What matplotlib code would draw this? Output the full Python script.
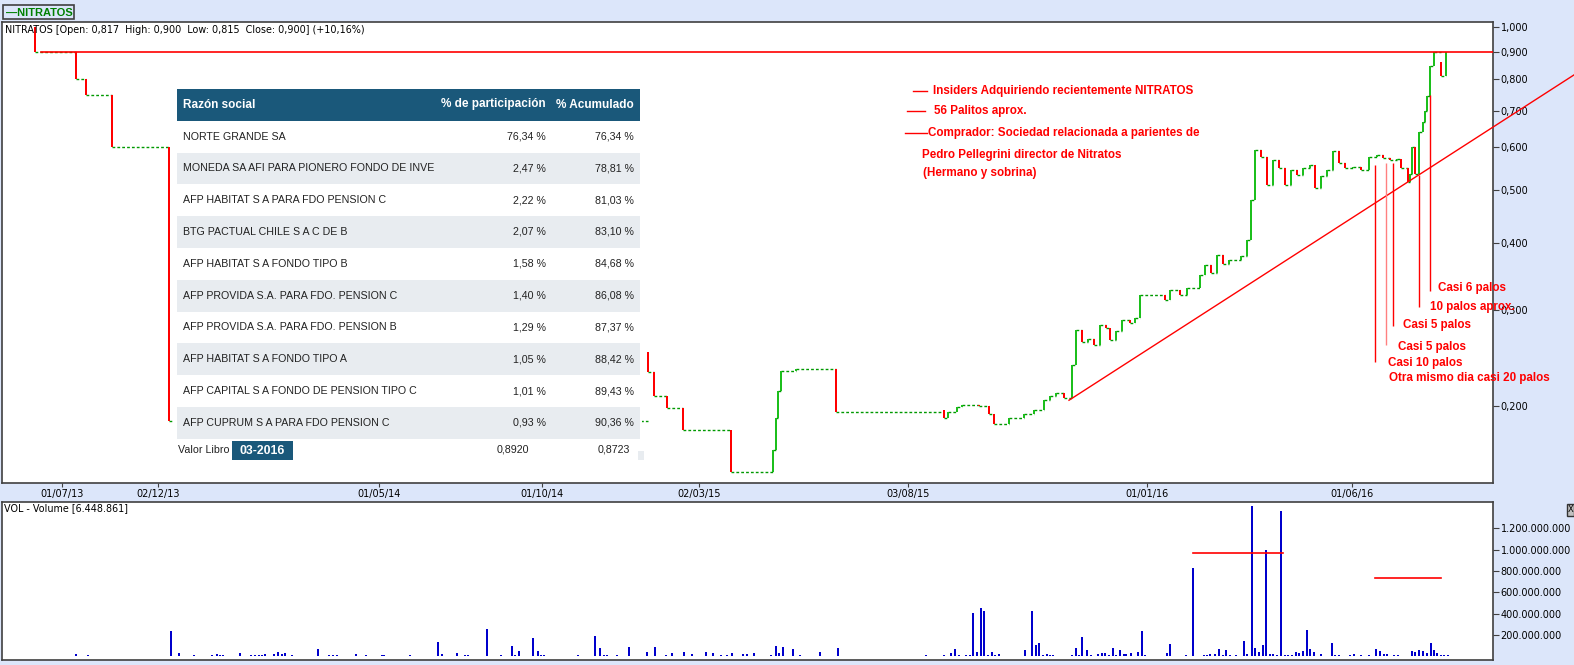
import numpy as np
import matplotlib.pyplot as plt
from matplotlib.patches import Rectangle
from matplotlib.ticker import NullLocator

W, H = 1574, 665
BG = '#dce6fa'
RED = '#ff0000'
GREEN = '#1cbf1c'
DASH = '#009900'
BLUE = '#0000cc'
NAVY = '#1a587a'
GRAYROW = '#e8ecf0'
FRAME = '#404040'

# price candles: chart slot, open, close
pos = [35, 76, 86, 112, 169, 648, 654, 667, 683, 731, 773, 776, 778, 781, 796, 836,
       944, 948, 957, 962, 979, 989, 994, 1009, 1024, 1034, 1044, 1050, 1056, 1064,
       1072, 1076, 1082, 1088, 1094, 1100, 1106, 1110, 1116, 1122, 1130, 1135, 1140,
       1165, 1170, 1180, 1187, 1200, 1205, 1211, 1217, 1223, 1229, 1241, 1247, 1251,
       1255, 1261, 1267, 1273, 1279, 1285, 1291, 1297, 1303, 1310, 1315, 1321, 1327,
       1333, 1339, 1345, 1353, 1361, 1369, 1377, 1383, 1390, 1397, 1401, 1408, 1410,
       1412, 1415, 1419, 1423, 1425, 1427, 1430, 1434, 1441, 1446]
opn = [1.000, 0.900, 0.800, 0.748, 0.600, 0.252, 0.231, 0.209, 0.198, 0.181, 0.151, 0.166,
       0.190, 0.213, 0.232, 0.234, 0.197, 0.190, 0.195, 0.199, 0.201, 0.200, 0.193, 0.185,
       0.190, 0.193, 0.197, 0.205, 0.209, 0.211, 0.207, 0.238, 0.276, 0.262, 0.266, 0.259,
       0.282, 0.279, 0.265, 0.275, 0.288, 0.284, 0.290, 0.320, 0.314, 0.327, 0.320, 0.330,
       0.349, 0.364, 0.352, 0.380, 0.366, 0.372, 0.378, 0.405, 0.479, 0.593, 0.575, 0.511,
       0.568, 0.550, 0.511, 0.544, 0.533, 0.550, 0.556, 0.505, 0.530, 0.544, 0.590, 0.560,
       0.548, 0.552, 0.545, 0.576, 0.580, 0.574, 0.568, 0.570, 0.549, 0.517, 0.535, 0.600,
       0.535, 0.640, 0.667, 0.700, 0.745, 0.846, 0.860, 0.811]
cls = [0.900, 0.800, 0.748, 0.600, 0.188, 0.231, 0.209, 0.198, 0.181, 0.151, 0.166, 0.190,
       0.213, 0.232, 0.234, 0.195, 0.190, 0.195, 0.199, 0.201, 0.200, 0.193, 0.185, 0.190,
       0.193, 0.197, 0.205, 0.209, 0.211, 0.207, 0.238, 0.276, 0.262, 0.266, 0.259, 0.282,
       0.279, 0.265, 0.275, 0.288, 0.284, 0.290, 0.320, 0.314, 0.327, 0.320, 0.330, 0.349,
       0.364, 0.352, 0.380, 0.366, 0.372, 0.378, 0.405, 0.479, 0.593, 0.575, 0.511, 0.568,
       0.550, 0.511, 0.544, 0.533, 0.550, 0.556, 0.505, 0.530, 0.544, 0.590, 0.560, 0.548,
       0.552, 0.545, 0.576, 0.580, 0.574, 0.568, 0.570, 0.549, 0.517, 0.535, 0.600, 0.535,
       0.640, 0.667, 0.700, 0.745, 0.846, 0.900, 0.811, 0.900]

# volume bars (millions)
vol_pos = [76, 88, 171, 179, 194, 212, 217, 220, 223, 240, 251, 255, 259, 262, 265, 274,
           278, 282, 285, 292, 318, 329, 333, 337, 356, 366, 382, 384, 410, 438, 442, 457,
           465, 468, 487, 501, 512, 515, 519, 533, 538, 541, 544, 578, 595, 600, 604, 607,
           617, 629, 647, 655, 666, 672, 684, 692, 706, 713, 721, 727, 732, 743, 747, 754,
           771, 776, 779, 783, 793, 800, 820, 838, 926, 944, 951, 955, 959, 966, 970, 973,
           977, 981, 984, 988, 992, 995, 999, 1025, 1032, 1036, 1039, 1043, 1047, 1050,
           1053, 1072, 1076, 1079, 1082, 1087, 1091, 1098, 1102, 1105, 1109, 1113, 1116,
           1120, 1124, 1126, 1131, 1138, 1142, 1145, 1167, 1170, 1186, 1193, 1204, 1207,
           1210, 1215, 1219, 1223, 1226, 1230, 1236, 1244, 1247, 1252, 1255, 1259, 1263,
           1266, 1270, 1273, 1277, 1281, 1285, 1288, 1292, 1296, 1299, 1303, 1307, 1310,
           1314, 1321, 1332, 1335, 1339, 1350, 1354, 1361, 1369, 1376, 1380, 1384, 1387,
           1394, 1398, 1412, 1415, 1419, 1423, 1427, 1431, 1434, 1437, 1441, 1444, 1448]
vol_m = [19, 9, 237, 28, 9, 9, 19, 9, 9, 28, 9, 12, 12, 12, 19, 19,
         37, 19, 28, 9, 66, 9, 9, 9, 19, 9, 9, 9, 9, 131, 19, 28,
         9, 9, 253, 9, 94, 12, 47, 169, 47, 9, 9, 9, 188, 75, 9, 9,
         9, 84, 37, 84, 9, 28, 37, 19, 37, 28, 9, 9, 28, 19, 19, 28,
         9, 94, 28, 84, 66, 9, 37, 75, 9, 9, 28, 66, 9, 9, 9, 403,
         37, 450, 422, 9, 37, 9, 19, 56, 422, 103, 122, 9, 19, 9,
         9, 9, 75, 9, 178, 56, 9, 19, 28, 28, 9, 75, 9,
         56, 19, 19, 28, 37, 237, 9, 28, 112, 9, 825, 9, 9,
         19, 19, 66, 9, 56, 9, 9, 141, 19, 1407, 75, 37, 103,
         994, 19, 19, 9, 1360, 9, 9, 9, 37, 28, 47, 244, 66,
         37, 19, 122, 9, 9, 9, 19, 9, 9, 66, 47, 19, 19,
         9, 9, 47, 37, 56, 47, 28, 122, 56, 28, 9, 9, 9]

date_pos = [62, 158, 379, 542, 699, 908, 1147, 1352]
date_lab = ['01/07/13', '02/12/13', '01/05/14', '01/10/14', '02/03/15', '03/08/15',
            '01/01/16', '01/06/16']
price_ticks = [0.2, 0.3, 0.4, 0.5, 0.6, 0.7, 0.8, 0.9, 1.0]
vol_ticks = [200, 400, 600, 800, 1000, 1200]

# ownership table
holders = ['NORTE GRANDE SA', 'MONEDA SA AFI PARA PIONERO FONDO DE INVE',
           'AFP HABITAT S A PARA FDO PENSION C', 'BTG PACTUAL CHILE S A C DE B',
           'AFP HABITAT S A FONDO TIPO B', 'AFP PROVIDA S.A. PARA FDO. PENSION C',
           'AFP PROVIDA S.A. PARA FDO. PENSION B', 'AFP HABITAT S A FONDO TIPO A',
           'AFP CAPITAL S A FONDO DE PENSION TIPO C', 'AFP CUPRUM S A PARA FDO PENSION C']
part = ['76,34 %', '2,47 %', '2,22 %', '2,07 %', '1,58 %', '1,40 %', '1,29 %',
        '1,05 %', '1,01 %', '0,93 %']
acum = ['76,34 %', '78,81 %', '81,03 %', '83,10 %', '84,68 %', '86,08 %', '87,37 %',
        '88,42 %', '89,43 %', '90,36 %']
valor_libro = ['0,8920', '0,8723']

# annotations
notes = [('Insiders Adquiriendo recientemente NITRATOS', 933, 0.762),
         ('56 Palitos aprox.', 934, 0.699),
         ('Comprador: Sociedad relacionada a parientes de', 928, 0.636),
         ('Pedro Pellegrini director de Nitratos', 922, 0.580),
         ('(Hermano y sobrina)', 923, 0.537)]
note_dash = [(913, 927, 0.762), (907, 925, 0.699), (905, 927, 0.636)]
palos = [('Casi 6 palos', 1438, 0.330), ('10 palos aprox.', 1430, 0.3045),
         ('Casi 5 palos', 1403, 0.2817), ('Casi 5 palos', 1398, 0.2573),
         ('Casi 10 palos', 1388, 0.2404), ('Otra mismo dia casi 20 palos', 1389, 0.225)]
mark_x = [1375, 1386, 1393, 1419, 1430]
mark_top = [0.556, 0.561, 0.561, 0.532, 0.748]
mark_bot = [0.241, 0.259, 0.281, 0.3045, 0.326]

plt.rcParams['font.family'] = 'DejaVu Sans'
fig = plt.figure(figsize=(W / 100, H / 100), dpi=100, facecolor=BG)

# ---- price panel
ax = fig.add_axes([2 / W, (H - 483) / H, 1491 / W, (483 - 21.7) / H])
ax.set_yscale('log')
ax.set_xlim(2, 1493)
ax.set_ylim(0.1443, 1.0214)

opn_a, cls_a, pos_a = np.array(opn), np.array(cls), np.array(pos)
lo = np.minimum(opn_a, cls_a)
hi = np.maximum(opn_a, cls_a)
cols = [GREEN if c >= o else RED for o, c in zip(opn_a, cls_a)]
ax.hlines(cls_a[:-1], pos_a[:-1], pos_a[1:], colors=DASH, linestyles=(0, (2, 1.5)),
          linewidth=1, zorder=2)
ax.bar(pos_a, hi - lo, bottom=lo, width=2.8, color=cols, zorder=3)

ax.plot([41, 1493], [0.9, 0.9], color=RED, lw=1.2, zorder=4)
ax.plot([1069, 1574], [0.205, 0.815], color=RED, lw=1, clip_on=False, zorder=4)
ax.vlines(mark_x, mark_bot, mark_top, colors=[RED, '#ff8080', RED, RED, RED], lw=1, zorder=4)

for txt, x, y in notes:
    ax.text(x, y, txt, color=RED, fontsize=8.4, fontweight='bold', family='Liberation Sans',
            va='center', ha='left', zorder=6)
for x0, x1, y in note_dash:
    ax.plot([x0, x1], [y, y], color=RED, lw=1, zorder=5)
for txt, x, y in palos:
    ax.text(x, y, txt, color=RED, fontsize=8.4, fontweight='bold', family='Liberation Sans',
            va='center', ha='left', zorder=6, clip_on=False)

ax.yaxis.tick_right()
ax.yaxis.set_minor_locator(NullLocator())
ax.set_yticks(price_ticks)
ax.set_yticklabels([('%.3f' % v).replace('.', ',') for v in price_ticks])
ax.set_xticks(date_pos)
ax.set_xticklabels(date_lab)
ax.tick_params(axis='y', which='both', length=4, width=0.8, color=FRAME, labelsize=7,
               pad=1.5, right=True, left=False)
ax.tick_params(axis='x', length=3, width=0.8, color=FRAME, labelsize=7, pad=1)
for sp in ax.spines.values():
    sp.set_color(FRAME)
    sp.set_linewidth(1.2)

# ---- volume panel
axv = fig.add_axes([2 / W, (H - 660) / H, 1491 / W, (660 - 502.3) / H])
axv.bar(vol_pos, np.array(vol_m) * 1e6, width=2, color=BLUE, zorder=2)
axv.set_xlim(2, 1493)
axv.set_ylim(-35e6, 1444e6)
axv.plot([1193, 1283], [969e6, 969e6], color=RED, lw=1.2, zorder=3)
axv.plot([1375, 1441], [737e6, 737e6], color=RED, lw=1.2, zorder=3)
axv.yaxis.tick_right()
axv.set_yticks([v * 1e6 for v in vol_ticks])
axv.set_yticklabels(['{:,}'.format(v * 1000000).replace(',', '.') for v in vol_ticks])
axv.set_xticks([])
axv.tick_params(axis='y', length=4, width=0.8, color=FRAME, labelsize=7, pad=1.5)
for sp in axv.spines.values():
    sp.set_color(FRAME)
    sp.set_linewidth(1.2)

# ---- overlay in pixel coordinates (table, captions)
ov = fig.add_axes([0, 0, 1, 1], zorder=10)
ov.set_xlim(0, W)
ov.set_ylim(H, 0)
ov.axis('off')

ov.add_patch(Rectangle((2.5, 5), 71.5, 14, facecolor=BG, edgecolor=FRAME, lw=1.2))
ov.text(6, 12.5, '\u2014NITRATOS', color='#008000', fontsize=8, fontweight='bold',
        family='Liberation Sans', va='center')
ov.text(5, 30, 'NITRATOS [Open: 0,817  High: 0,900  Low: 0,815  Close: 0,900] (+10,16%)',
        fontsize=6.9, va='center')
ov.text(4, 508, 'VOL - Volume [6.448.861]', fontsize=6.9, va='center')
ov.add_patch(Rectangle((1567, 504), 7, 12, facecolor='#c0c0c0', edgecolor='#333333', lw=1))
ov.text(1570.5, 510, 'X', fontsize=6, ha='center', va='center')

tl, tr = 176.7, 640
row_h = 31.8
ov.add_patch(Rectangle((174, 88), 468, 375, facecolor='white', edgecolor='none'))
ov.add_patch(Rectangle((tl, 89), tr - tl, 31.7, facecolor=NAVY, edgecolor='none'))
hdr = dict(color='white', fontsize=8.5, fontweight='bold', family='Liberation Sans', va='center')
ov.text(183, 104.5, 'Razón social', ha='left', **hdr)
ov.text(545.7, 104.5, '% de participación', ha='right', **hdr)
ov.text(634, 104.5, '% Acumulado', ha='right', **hdr)
cell = dict(color='#222222', fontsize=7.7, family='Liberation Sans', va='center')
for k, name in enumerate(holders):
    top = 120.7 + row_h * k
    if k % 2 == 1:
        ov.add_patch(Rectangle((tl, top), tr - tl, row_h, facecolor=GRAYROW, edgecolor='none'))
    ov.text(183, top + row_h / 2, name, ha='left', **cell)
    ov.text(545.7, top + row_h / 2, part[k], ha='right', **cell)
    ov.text(634, top + row_h / 2, acum[k], ha='right', **cell)
ov.text(178, 450, 'Valor Libro', ha='left', **cell)
ov.add_patch(Rectangle((232, 441), 61, 19, facecolor=NAVY, edgecolor='none'))
ov.text(262.5, 450.5, '03-2016', color='white', fontsize=8.8, fontweight='bold',
        family='Liberation Sans', ha='center', va='center')
ov.text(529, 450, valor_libro[0], ha='right', **cell)
ov.text(630, 450, valor_libro[1], ha='right', **cell)
ov.add_patch(Rectangle((638, 451), 6, 9, facecolor=GRAYROW, edgecolor='none'))

fig.savefig('out.png', dpi=100, facecolor=BG)
